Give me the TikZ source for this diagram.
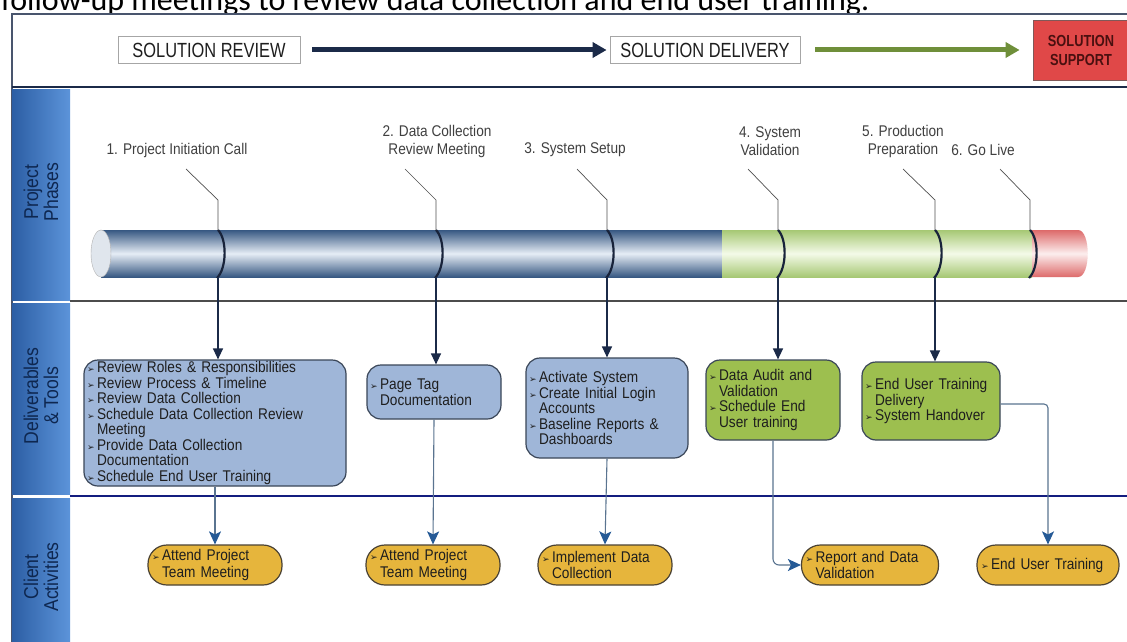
\documentclass[tikz,border=0pt]{standalone}
\usepackage{fontspec}
\setmainfont{Liberation Sans}[FakeStretch=0.88]
\newfontfamily\hdrfont{Liberation Sans}[FakeStretch=0.8]
\newfontfamily\calfont{Carlito}
\newfontfamily\symfont{DejaVu Sans}
\usetikzlibrary{arrows.meta,calc}
\definecolor{navy}{HTML}{1B2A48}
\definecolor{hgreen}{HTML}{6F8F3A}
\definecolor{sred}{HTML}{E04848}
\definecolor{sredtxt}{HTML}{4A1010}
\definecolor{sideL}{HTML}{2C5EA4}
\definecolor{sideR}{HTML}{5C94DA}
\definecolor{sidetxt}{HTML}{0E2750}
\definecolor{boxblue}{HTML}{9FB6D8}
\definecolor{boxgreen}{HTML}{9DBF4F}
\definecolor{gold}{HTML}{E6B53C}
\definecolor{boxedge}{HTML}{3A4658}
\definecolor{cedge}{HTML}{4A4234}
\definecolor{lowc}{HTML}{5A7490}
\definecolor{tipblue}{HTML}{255A96}
\definecolor{leadc}{HTML}{505050}
\definecolor{ringc}{HTML}{18233A}
\definecolor{txt}{HTML}{1E1E1E}
\definecolor{cylB}{HTML}{375882}
\definecolor{cylBm}{HTML}{E6EDF5}
\definecolor{cylG}{HTML}{A6C874}
\definecolor{cylGm}{HTML}{F4FAE8}
\definecolor{cylR}{HTML}{DD6A6A}
\definecolor{cylRm}{HTML}{FCEEEE}
\newcommand\bul{{\symfont\fontsize{9}{9}\selectfont ➢}\,}
\newcommand\ind{\hphantom{\bul}}
\begin{document}
\begin{tikzpicture}[x=1pt,y=-1pt,
  hdr/.style={draw=gray!70, line width=0.8pt, fill=white, minimum height=27pt, inner sep=0pt,
    font=\hdrfont\fontsize{20.5}{22}\selectfont, text=txt},
  side/.style={rotate=90, align=center, font=\fontsize{20}{20}\selectfont, text=sidetxt},
  phase/.style={align=center, font=\fontsize{15.5}{18}\selectfont, text=txt!85},
  dbox/.style={draw=boxedge, line width=1.2pt, rounded corners=14pt, align=left,
    inner xsep=3pt, inner ysep=0pt, font=\fontsize{15.5}{15.5}\selectfont, text=txt},
  cbox/.style={draw=cedge, line width=1.2pt, fill=gold, rounded corners=19pt, align=left,
    minimum height=40pt, inner xsep=4pt, inner ysep=0pt, font=\fontsize{15.5}{16.5}\selectfont, text=txt},
  leader/.style={draw=leadc, line width=0.7pt},
  ring/.style={draw=ringc, line width=2.2pt},
  down/.style={draw=navy, line width=1.3pt, -{Triangle[length=11pt,width=10pt]}},
  lower/.style={draw=lowc, line width=1.1pt, -{Stealth[length=13pt,width=12pt,inset=3pt,color=tipblue]}}
]
\useasboundingbox (0,0) rectangle (1127,642);
% top cut-off text
\node[anchor=base west, inner sep=0pt, font=\calfont\fontsize{32}{34}\selectfont, text=black] (toptext) at (1,11)
  {follow-up meetings to review data collection and end user training.};
% frame
\fill[white] (12,14) rectangle (1140,650);
\draw[navy!80, line width=1.2pt] (12,660) -- (12,14) -- (1140,14);
\draw[navy, line width=2.8pt] (12,87) -- (1140,87);
% header
\node[hdr, minimum width=182pt] (h1) at (209,50) {SOLUTION REVIEW};
\node[hdr, minimum width=190pt] (h2) at (705,50) {SOLUTION DELIVERY};
\node[draw=sredtxt!70, line width=0.8pt, fill=sred, minimum width=96pt, minimum height=60pt, align=center,
  font=\hdrfont\bfseries\fontsize{16}{19}\selectfont, text=sredtxt, inner sep=0pt] (h3) at (1081,50) {SOLUTION\\SUPPORT};
\draw[navy, line width=5pt, -{Triangle[length=14pt,width=15pt]}, shorten <=12pt, shorten >=3pt] (h1) -- (h2);
\draw[hgreen, line width=5pt, -{Triangle[length=14pt,width=15pt]}, shorten <=15pt, shorten >=13pt] (h2) -- (h3);
% sidebar
\shade[left color=sideL, right color=sideR] (12,89) rectangle (70,300);
\shade[left color=sideL, right color=sideR] (12,303) rectangle (70,494);
\shade[left color=sideL, right color=sideR] (12,498) rectangle (70,660);
\node[side] (s1) at (41,192) {\color{sidetxt}Project\\\color{sidetxt}Phases};
\node[side] (s2) at (41,396) {\color{sidetxt}Deliverables\\\color{sidetxt}\& Tools};
\node[side] (s3) at (41,577) {\color{sidetxt}Client\\\color{sidetxt}Activities};
% separators
\draw[black!70, line width=1.3pt] (70,301) -- (1140,301);
\draw[navy!70!blue, line width=1.6pt] (70,496) -- (1140,496);
% cylinder
\shade[top color=cylB, bottom color=cylB, middle color=cylBm] (101,230) rectangle (722,277);
\shade[top color=cylG, bottom color=cylG, middle color=cylGm] (722,230) rectangle (1032,277);
\shade[top color=cylR, bottom color=cylR, middle color=cylRm] (1032,230) -- (1078,230)
   .. controls (1091,230) and (1091,277) .. (1078,277) -- (1032,277) -- cycle;
\draw[fill=cylBm!70!cylB!40, draw=gray!60] (101,253.5) ellipse [x radius=10, y radius=23.5];
% phase labels
\node[phase] (p1) at (177,150) {1. Project Initiation Call};
\node[phase] (p2) at (437,141) {2. Data Collection\\Review Meeting};
\node[phase] (p3) at (575,150) {3. System Setup};
\node[phase] (p4) at (770,141) {4. System\\Validation};
\node[phase] (p5) at (903,141) {5. Production\\Preparation};
\node[phase] (p6) at (983,150) {6. Go Live};
% leader coordinates
\foreach \i/\x/\s in {1/218/186, 2/436/405, 3/607/577, 4/778/748, 5/935/903, 6/1030/1000} {
  \coordinate (a\i) at (\s,169);
  \coordinate (k\i) at (\x,200);
  \coordinate (t\i) at (\x,230);
  \coordinate (b\i) at (\x,277);
  \draw[leader] (a\i) -- (k\i) -- (t\i);
  \draw[ring] (t\i) .. controls ($(t\i)+(9,9)$) and ($(b\i)+(9,-9)$) .. ($(b\i)+(-1,1)$);
}
% deliverables
\node[dbox, fill=boxblue, text width=256pt, minimum height=126pt] (d1) at (215,423)
  {\bul Review Roles \& Responsibilities\\\bul Review Process \& Timeline\\\bul Review Data Collection\\
   \bul Schedule Data Collection Review\\\ind Meeting\\\bul Provide Data Collection\\\ind Documentation\\
   \bul Schedule End User Training};
\node[dbox, fill=boxblue, text width=128pt, minimum height=54pt] (d2) at (434,392)
  {\bul Page Tag\\\ind Documentation};
\node[dbox, fill=boxblue, text width=156pt, minimum height=100pt] (d3) at (607,408)
  {\bul Activate System\\\bul Create Initial Login\\\ind Accounts\\\bul Baseline Reports \&\\\ind Dashboards};
\node[dbox, fill=boxgreen, text width=128pt, minimum height=80pt] (d4) at (773,400)
  {\bul Data Audit and\\\ind Validation\\\bul Schedule End\\\ind User training};
\node[dbox, fill=boxgreen, text width=132pt, minimum height=78pt] (d5) at (931,401)
  {\bul End User Training\\\ind Delivery\\\bul System Handover};
% client activities
\node[cbox, text width=126pt] (c1) at (215,565) {\bul Attend Project\\\ind Team Meeting};
\node[cbox, text width=126pt] (c2) at (433,565) {\bul Attend Project\\\ind Team Meeting};
\node[cbox, text width=126pt] (c3) at (605,565) {\bul Implement Data\\\ind Collection};
\node[cbox, text width=129pt] (c4) at (870,565) {\bul Report and Data\\\ind Validation};
\node[cbox, text width=134pt] (c5) at (1048,565) {\bul End User Training};
% arrows phase -> deliverables
\foreach \i in {1,...,5} { \draw[down] (b\i) -- (b\i |- d\i.north); }
% deliverables -> client
\draw[lower] (d1.south) -- (c1.north);
\draw[lower] (d2.south) -- (c2.north);
\draw[lower] (d3.south) -- (c3.north);
\draw[lower, rounded corners=6pt] (d4.south) |- (c4.west);
\draw[lower, rounded corners=4pt] ($(d5.east)+(0,3)$) -| (c5.north);
\end{tikzpicture}
\end{document}
